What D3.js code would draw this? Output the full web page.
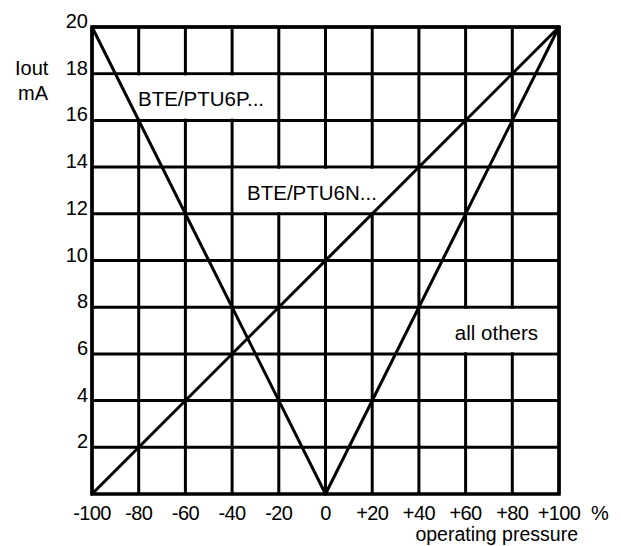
<!DOCTYPE html>
<html>
<head>
<meta charset="utf-8">
<script src="https://cdn.jsdelivr.net/npm/d3@7"></script>
<style>
  html, body { margin: 0; padding: 0; background: #fff; }
  svg text { font-family: "Liberation Sans", Arial, sans-serif; font-size: 20px; fill: #000; }
</style>
</head>
<body>
<svg id="chart" width="621" height="546"></svg>
<script>
// ---- data ----
const xTicks = [-100, -80, -60, -40, -20, 0, 20, 40, 60, 80, 100];
const xTickLabels = ["-100", "-80", "-60", "-40", "-20", "0", "+20", "+40", "+60", "+80", "+100"];
const yTicks = [2, 4, 6, 8, 10, 12, 14, 16, 18, 20];
const yTickLabels = ["2", "4", "6", "8", "10", "12", "14", "16", "18", "20"];

// series (operating pressure %, Iout mA)
const seriesP_x = [-100, 0];
const seriesP_y = [20, 0];
const seriesOthers_x = [0, 100];
const seriesOthers_y = [0, 20];
const seriesN_x = [-100, 100];
const seriesN_y = [0, 20];

// annotation labels: text, the grid cells their white box covers, and the text anchor (data units)
const labelTexts = ["BTE/PTU6P...", "BTE/PTU6N...", "all others"];
const labelX0 = [-100, -40, 40];
const labelX1 = [-20, 40, 100];
const labelY0 = [16, 12, 6];
const labelY1 = [18, 14, 8];
const labelTextX = [-53.3, -5.8, 73.2];
const labelTextY = [16.6, 12.6, 6.6];

// ---- chart ----
const svg = d3.select("#chart");
const x = d3.scaleLinear().domain([-100, 100]).range([92, 559]);
const y = d3.scaleLinear().domain([0, 20]).range([494, 27]);

// grid
const grid = svg.append("g").attr("stroke", "#000").attr("stroke-width", 3);
grid.selectAll("line.v").data(xTicks).join("line")
  .attr("class", "v")
  .attr("x1", d => x(d)).attr("x2", d => x(d))
  .attr("y1", y(0)).attr("y2", y(20));
grid.selectAll("line.h").data(yTicks).join("line")
  .attr("class", "h")
  .attr("x1", x(-100)).attr("x2", x(100))
  .attr("y1", d => y(d)).attr("y2", d => y(d));

// label boxes (hide grid lines inside)
const inset = 1.7;
const labels = labelTexts.map((t, i) => ({
  t, x0: labelX0[i], x1: labelX1[i], y0: labelY0[i], y1: labelY1[i], tx: labelTextX[i], ty: labelTextY[i]
}));
svg.append("g").selectAll("rect").data(labels).join("rect")
  .attr("x", d => x(d.x0) + inset)
  .attr("y", d => y(d.y1) + inset)
  .attr("width", d => x(d.x1) - x(d.x0) - 2 * inset)
  .attr("height", d => y(d.y0) - y(d.y1) - 2 * inset)
  .attr("fill", "#fff");

// series lines
const line = d3.line().x(d => x(d[0])).y(d => y(d[1]));
const series = [
  d3.zip(seriesP_x, seriesP_y),
  d3.zip(seriesOthers_x, seriesOthers_y),
  d3.zip(seriesN_x, seriesN_y)
];
svg.append("g").selectAll("path").data(series).join("path")
  .attr("d", line)
  .attr("fill", "none")
  .attr("stroke", "#000")
  .attr("stroke-width", 3)
  .attr("stroke-linecap", "round");

// outer border
svg.append("rect")
  .attr("x", x(-100)).attr("y", y(20))
  .attr("width", x(100) - x(-100)).attr("height", y(0) - y(20))
  .attr("fill", "none").attr("stroke", "#000").attr("stroke-width", 3.5);

// label text
svg.append("g").selectAll("text").data(labels).join("text")
  .attr("x", d => x(d.tx))
  .attr("y", d => y(d.ty))
  .attr("text-anchor", "middle")
  .style("font-size", "20.5px")
  .text(d => d.t);

// y tick labels
svg.append("g").selectAll("text").data(yTicks).join("text")
  .attr("x", 88)
  .attr("y", d => y(d) + 1)
  .attr("text-anchor", "end")
  .text((d, i) => yTickLabels[i]);

// x tick labels
svg.append("g").selectAll("text").data(xTicks).join("text")
  .attr("x", d => x(d))
  .attr("y", 520)
  .attr("text-anchor", "middle")
  .style("letter-spacing", "-0.6px")
  .text((d, i) => xTickLabels[i]);

// units / axis titles
svg.append("text").attr("x", 591).attr("y", 520).text("%");
svg.append("text").attr("x", 578).attr("y", 541).attr("text-anchor", "end")
  .style("font-size", "19.5px").text("operating pressure");
svg.append("text").attr("x", 15).attr("y", 75).text("Iout");
svg.append("text").attr("x", 18).attr("y", 100).text("mA");
</script>
</body>
</html>
